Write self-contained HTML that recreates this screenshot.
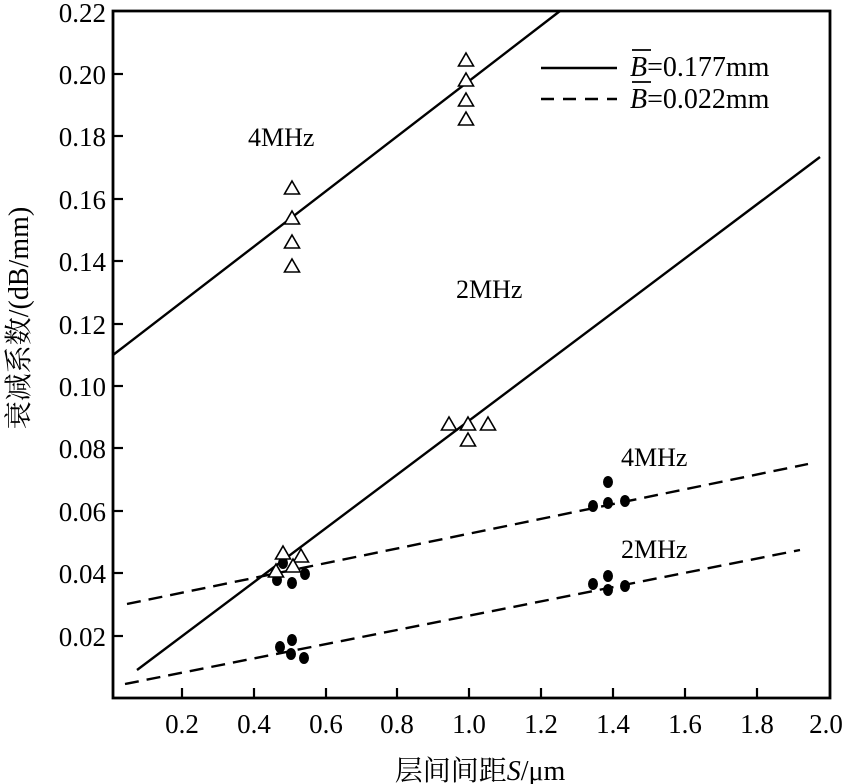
<!DOCTYPE html>
<html><head><meta charset="utf-8"><style>
html,body{margin:0;padding:0;background:#fff;}
svg{display:block;}
text{font-family:"Liberation Serif","Noto Serif CJK SC",serif;fill:#000;}
</style></head><body>
<svg width="844" height="784" viewBox="0 0 844 784" xmlns="http://www.w3.org/2000/svg">
<defs>
<path id="tri" d="M0,-7 L7.5,6 L-7.5,6 Z" fill="#fff" stroke="#000" stroke-width="1.6"/>
<ellipse id="dot" rx="5" ry="6" fill="#000"/>
</defs>
<path d="M113,11 H830 V698 H113 Z" fill="none" stroke="#000" stroke-width="2.8"/>
<g stroke="#000" stroke-width="2.2">
<line x1="113" y1="74" x2="123" y2="74"/><line x1="113" y1="136" x2="123" y2="136"/>
<line x1="113" y1="199" x2="123" y2="199"/><line x1="113" y1="261" x2="123" y2="261"/>
<line x1="113" y1="324" x2="123" y2="324"/><line x1="113" y1="386" x2="123" y2="386"/>
<line x1="113" y1="448" x2="123" y2="448"/><line x1="113" y1="511" x2="123" y2="511"/>
<line x1="113" y1="573" x2="123" y2="573"/><line x1="113" y1="636" x2="123" y2="636"/>
<line x1="182" y1="688" x2="182" y2="698"/><line x1="254" y1="688" x2="254" y2="698"/>
<line x1="326" y1="688" x2="326" y2="698"/><line x1="397" y1="688" x2="397" y2="698"/>
<line x1="469" y1="688" x2="469" y2="698"/><line x1="541" y1="688" x2="541" y2="698"/>
<line x1="613" y1="688" x2="613" y2="698"/><line x1="685" y1="688" x2="685" y2="698"/>
<line x1="757" y1="688" x2="757" y2="698"/>
</g>
<g font-size="27" text-anchor="end">
<text x="106" y="22">0.22</text><text x="106" y="84">0.20</text><text x="106" y="146">0.18</text>
<text x="106" y="209">0.16</text><text x="106" y="271">0.14</text><text x="106" y="334">0.12</text>
<text x="106" y="396">0.10</text><text x="106" y="458">0.08</text><text x="106" y="521">0.06</text>
<text x="106" y="583">0.04</text><text x="106" y="646">0.02</text>
</g>
<g font-size="27" text-anchor="middle">
<text x="182" y="733">0.2</text><text x="254" y="733">0.4</text><text x="326" y="733">0.6</text>
<text x="397" y="733">0.8</text><text x="469" y="733">1.0</text><text x="541" y="733">1.2</text>
<text x="613" y="733">1.4</text><text x="685" y="733">1.6</text><text x="757" y="733">1.8</text>
<text x="826" y="733">2.0</text>
<text x="480" y="780" font-size="28">层间间距<tspan font-style="italic">S</tspan>/μm</text>
</g>
<text transform="translate(28,318) rotate(-90)" font-size="28" text-anchor="middle">衰减系数/(dB/mm)</text>
<g stroke="#000" stroke-width="2.4" fill="none">
<line x1="113" y1="355" x2="560" y2="11"/>
<line x1="137" y1="670" x2="820" y2="157"/>
<line x1="127" y1="604" x2="808" y2="464" stroke-dasharray="14,8"/>
<line x1="125" y1="684" x2="800" y2="550" stroke-dasharray="14,8"/>
<line x1="541" y1="68" x2="617" y2="68"/>
<line x1="541" y1="99" x2="617" y2="99" stroke-dasharray="13,9"/>
</g>
<use href="#tri" x="292" y="188"/><use href="#tri" x="292" y="218"/><use href="#tri" x="292" y="242"/><use href="#tri" x="292" y="266"/>
<use href="#tri" x="466" y="60"/><use href="#tri" x="466" y="80"/><use href="#tri" x="466" y="100"/><use href="#tri" x="466" y="119"/>
<use href="#tri" x="449" y="424"/><use href="#tri" x="468" y="424"/><use href="#tri" x="468" y="440"/><use href="#tri" x="488" y="424"/>
<use href="#dot" x="283" y="563"/><use href="#dot" x="277" y="580"/><use href="#dot" x="292" y="583"/><use href="#dot" x="305" y="574"/>
<use href="#tri" x="283" y="553"/><use href="#tri" x="301" y="556"/><use href="#tri" x="276" y="571"/><use href="#tri" x="293" y="566"/>
<use href="#dot" x="280" y="647"/><use href="#dot" x="292" y="640"/><use href="#dot" x="291" y="654"/><use href="#dot" x="304" y="658"/>
<use href="#dot" x="593" y="506"/><use href="#dot" x="608" y="482"/><use href="#dot" x="608" y="503"/><use href="#dot" x="625" y="501"/>
<use href="#dot" x="593" y="584"/><use href="#dot" x="608" y="576"/><use href="#dot" x="608" y="590"/><use href="#dot" x="625" y="586"/>
<g font-size="26">
<text x="248" y="146">4MHz</text>
<text x="456" y="298">2MHz</text>
<text x="621" y="466">4MHz</text>
<text x="621" y="558">2MHz</text>
<text x="630" y="76" font-size="28"><tspan font-style="italic">B</tspan>=0.177mm</text>
<text x="630" y="108" font-size="28"><tspan font-style="italic">B</tspan>=0.022mm</text>
</g>
<line x1="632" y1="50" x2="651" y2="50" stroke="#000" stroke-width="1.8"/>
<line x1="632" y1="82" x2="651" y2="82" stroke="#000" stroke-width="1.8"/>
</svg>
</body></html>
